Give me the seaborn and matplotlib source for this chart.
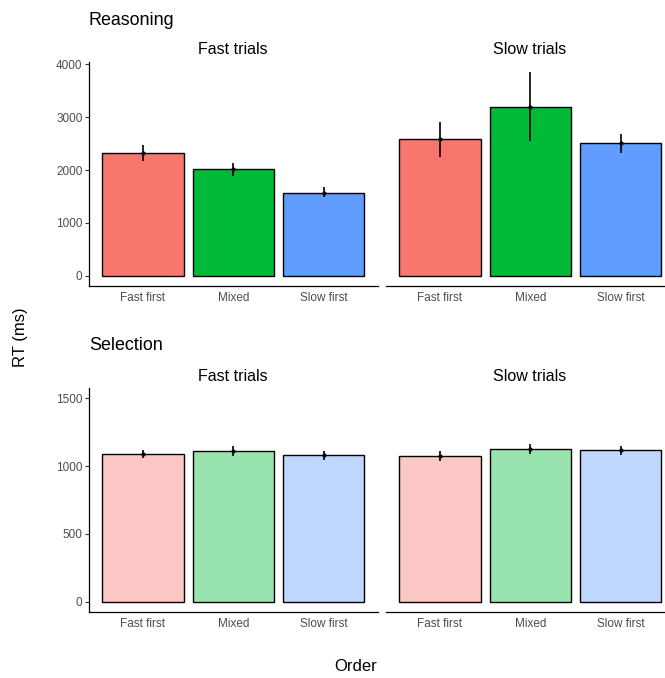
import matplotlib
matplotlib.use("Agg")
import matplotlib.pyplot as plt
import numpy as np
import pandas as pd
import seaborn as sns

orders = ["Fast first", "Mixed", "Slow first"]

reason_fast_mean = [2320, 2015, 1575]
reason_fast_lo = [2170, 1895, 1490]
reason_fast_hi = [2475, 2130, 1685]

reason_slow_mean = [2595, 3190, 2510]
reason_slow_lo = [2255, 2540, 2320]
reason_slow_hi = [2915, 3850, 2685]

sel_fast_mean = [1090, 1110, 1080]
sel_fast_lo = [1060, 1075, 1045]
sel_fast_hi = [1120, 1145, 1112]

sel_slow_mean = [1075, 1128, 1115]
sel_slow_lo = [1040, 1092, 1082]
sel_slow_hi = [1110, 1162, 1148]

reason_ticks = [0, 1000, 2000, 3000, 4000]
sel_ticks = [0, 500, 1000, 1500]
sel_upper = 1500

W, H = 665, 678
base_cols = ["#F8766D", "#00BA38", "#619CFF"]


def lighten(c, a=0.4):
    rgb = np.array(matplotlib.colors.to_rgb(c))
    return tuple(rgb * a + (1 - a))


light_cols = [lighten(c) for c in base_cols]

sns.set_style("white")
plt.rcParams["font.family"] = ["Liberation Sans", "DejaVu Sans"]
plt.rcParams["text.color"] = "black"

fig = plt.figure(figsize=(W / 100, H / 100), dpi=100)


def rect(x0, y0, x1, y1):
    return [x0 / W, 1 - y1 / H, (x1 - x0) / W, (y1 - y0) / H]


def ftext(x, y, s, **kw):
    fig.text(x / W, 1 - y / H, s, color="black", **kw)


def panel(box, means, lo, hi, cols, ylim, ticks, show_y):
    ax = fig.add_axes(rect(*box))
    df = pd.DataFrame({"Order": orders, "RT": means})
    sns.barplot(data=df, x="Order", y="RT", hue="Order", palette=cols,
                errorbar=None, width=0.9, edgecolor="black", linewidth=1.0,
                legend=False, ax=ax, saturation=1)
    xs = np.arange(len(orders))
    m = np.array(means)
    ax.errorbar(xs, m, yerr=[m - np.array(lo), np.array(hi) - m], fmt="o",
                color="black", ms=2.0, elinewidth=1.2, capsize=0)
    ax.set_xlim(-0.6, len(orders) - 0.4)
    ax.set_ylim(*ylim)
    ax.set_xlabel("")
    ax.set_ylabel("")
    for s in ["top", "right"]:
        ax.spines[s].set_visible(False)
    ax.spines["bottom"].set_color("black")
    ax.spines["bottom"].set_linewidth(0.9)
    ax.tick_params(axis="x", length=0, pad=4.5, labelsize=8.5, labelcolor="#4D4D4D")
    if show_y:
        ax.spines["left"].set_color("black")
        ax.spines["left"].set_linewidth(0.9)
        ax.set_yticks(ticks)
        ax.tick_params(axis="y", left=True, length=3, width=0.8, color="#333333",
                       pad=1.5, labelsize=8.5, labelcolor="#4D4D4D")
    else:
        ax.spines["left"].set_visible(False)
        ax.set_yticks([])
    return ax


r_top = max(reason_slow_hi + reason_fast_hi)
r_lim = (-0.05 * r_top, r_top * 1.05)
s_lim = (-0.05 * sel_upper, sel_upper * 1.05)

panel((88.7, 62, 378, 286), reason_fast_mean, reason_fast_lo, reason_fast_hi,
      base_cols, r_lim, reason_ticks, True)
panel((385.7, 62, 675, 286), reason_slow_mean, reason_slow_lo, reason_slow_hi,
      base_cols, r_lim, reason_ticks, False)
panel((88.7, 388, 378, 612), sel_fast_mean, sel_fast_lo, sel_fast_hi,
      light_cols, s_lim, sel_ticks, True)
panel((385.7, 388, 675, 612), sel_slow_mean, sel_slow_lo, sel_slow_hi,
      light_cols, s_lim, sel_ticks, False)

ftext(89, 25, "Reasoning", fontsize=12.9, va="baseline", ha="left")
ftext(233, 54, "Fast trials", fontsize=11.5, va="baseline", ha="center")
ftext(530, 54, "Slow trials", fontsize=11.5, va="baseline", ha="center")
ftext(89, 350, "Selection", fontsize=12.9, va="baseline", ha="left")
ftext(233, 381, "Fast trials", fontsize=11.5, va="baseline", ha="center")
ftext(530, 381, "Slow trials", fontsize=11.5, va="baseline", ha="center")
ftext(356, 671, "Order", fontsize=12, va="baseline", ha="center")
ftext(21, 337, "RT (ms)", fontsize=12, va="center", ha="center", rotation=90)

fig.savefig("out.png", dpi=100)
